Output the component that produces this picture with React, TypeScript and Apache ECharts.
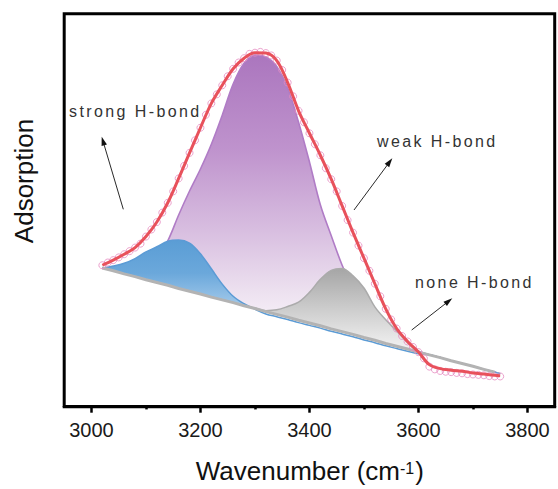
import React, { useEffect, useRef } from 'react';
import * as echarts from 'echarts';

// Wavenumber grid (cm-1) for the fitted components
const WAVENUMBERS = [3020, 3040, 3060, 3080, 3100, 3120, 3140, 3160, 3180, 3200, 3220, 3240, 3260, 3280, 3300, 3320, 3340, 3360, 3380, 3400, 3420, 3440, 3460, 3480, 3500, 3520, 3540, 3560, 3580, 3600, 3620, 3640, 3660, 3680, 3700, 3720, 3740, 3750];
// Linear baseline
const BASELINE = [35.1, 34.4, 33.6, 32.9, 32.1, 31.4, 30.7, 29.9, 29.2, 28.5, 27.7, 27.0, 26.3, 25.5, 24.8, 24.0, 23.3, 22.6, 21.8, 21.1, 20.4, 19.6, 18.9, 18.2, 17.4, 16.7, 15.9, 15.2, 14.5, 13.7, 13.0, 12.3, 11.5, 10.8, 10.1, 9.3, 8.6, 8.2];
// Component heights above the baseline
const STRONG_HBOND = [0, 1.2, 2.7, 4.6, 7.1, 9.1, 11.2, 12.3, 12.2, 10.2, 7.2, 4.0, 1.6, 0.5, -0.2, -0.6, -0.6, -0.6, -0.6, -0.6, -0.6, -0.6, -0.6, -0.6, -0.6, -0.6, -0.6, -0.6, -0.6, -0.4, 0, 0, 0, 0, 0, 0, 0, 0];
const WEAK_HBOND = [0, 0, 0.2, 0.5, 2.7, 6.1, 11.3, 18.7, 25.5, 31.8, 38.9, 47.0, 55.6, 61.7, 64.5, 64.8, 63.1, 58.3, 50.4, 41.0, 30.8, 23.7, 16.9, 11.5, 7.5, 4.5, 2.5, 1.2, 0.5, 0.2, 0, 0, 0, 0, 0, 0, 0, 0];
const NONE_HBOND = [0, 0, 0, 0, 0, 0, 0, 0, 0, 0, 0, 0, 0, 0, 0.1, 0.25, 1.15, 2.7, 4.6, 7.8, 11.8, 14.9, 16.1, 14.9, 12.6, 8.5, 6.0, 3.9, 1.6, 0, 0, 0, 0, 0, 0, 0, 0, 0];
// Cumulative fit
const FIT = [35.8, 37.1, 38.6, 40.3, 43.1, 46.8, 51.7, 57.9, 64.4, 70.8, 77.0, 81.6, 85.8, 88.5, 89.9, 89.8, 87.9, 82.3, 75.1, 69.4, 63.8, 57.7, 50.9, 44.1, 37.6, 31.1, 24.7, 19.7, 16.4, 13.7, 10.5, 9.5, 9.1, 8.8, 8.4, 8.1, 7.8, 7.7];
// Measured spectrum
const MEASURED_X = [3020, 3030, 3040, 3050, 3060, 3070, 3080, 3090, 3100, 3110, 3120, 3130, 3140, 3150, 3160, 3170, 3180, 3190, 3200, 3210, 3220, 3230, 3240, 3250, 3260, 3270, 3280, 3290, 3300, 3310, 3320, 3330, 3340, 3350, 3360, 3370, 3380, 3390, 3400, 3410, 3420, 3430, 3440, 3450, 3460, 3470, 3480, 3490, 3500, 3510, 3520, 3530, 3540, 3550, 3560, 3570, 3580, 3590, 3600, 3610, 3620, 3630, 3640, 3650, 3660, 3670, 3680, 3690, 3700, 3710, 3720, 3730, 3740, 3750];
const MEASURED_Y = [35.8, 36.5, 37.1, 37.8, 38.6, 39.4, 40.3, 41.3, 43.1, 44.9, 46.8, 49.2, 51.7, 54.6, 57.9, 61.1, 64.4, 67.6, 70.8, 74.1, 77.0, 79.3, 81.6, 83.9, 85.8, 87.4, 88.5, 89.6, 89.9, 90.1, 89.8, 89.2, 87.9, 85.5, 82.3, 78.8, 75.1, 72.2, 69.4, 66.6, 63.8, 60.5, 57.7, 54.6, 50.9, 47.3, 44.1, 40.8, 37.6, 34.4, 31.1, 27.9, 24.7, 22.0, 19.7, 17.8, 16.4, 15.0, 13.7, 12.1, 10.0, 9.3, 8.9, 8.7, 8.6, 8.4, 8.3, 8.1, 8.0, 7.9, 7.8, 7.6, 7.5, 7.5];
const MAJOR_TICKS = [3000, 3200, 3400, 3600, 3800];
const MINOR_TICKS = [3100, 3300, 3500, 3700];
const LABELS = ['strong H-bond', 'weak H-bond', 'none H-bond'];
const X_TITLE = ['Wavenumber (cm', '-1', ')'];
const Y_TITLE = 'Adsorption';

const FONT = "'Liberation Sans', Arial, sans-serif";
const ANNOT_FONT = "'Liberation Sans', annot";

function arrow(x1: number, y1: number, x2: number, y2: number) {
  const dx = x2 - x1, dy = y2 - y1;
  const len = Math.hypot(dx, dy);
  const ux = dx / len, uy = dy / len;
  const L = 9, W = 2.8;
  const bx = x2 - ux * L, by = y2 - uy * L;
  return {
    type: 'group',
    children: [
      { type: 'line', shape: { x1, y1, x2: bx + ux * 2, y2: by + uy * 2 }, style: { stroke: '#111', lineWidth: 0.9 } },
      { type: 'polygon', shape: { points: [[x2, y2], [bx - uy * W, by + ux * W], [bx + uy * W, by - ux * W]] }, style: { fill: '#111' } },
    ],
  };
}

function measure(text: string, size: number) {
  const ctx = document.createElement('canvas').getContext('2d');
  if (!ctx) return text.length * size * 0.55;
  ctx.font = `${size}px 'Liberation Sans', Arial, sans-serif`;
  return ctx.measureText(text).width;
}

export default function App() {
  const ref = useRef<HTMLDivElement>(null);
  useEffect(() => {
    if (!ref.current) return;
    const chart = echarts.init(ref.current, undefined, { renderer: 'svg' });
    const edge = (h: number[]) => WAVENUMBERS.map((x, i) => [x, +(BASELINE[i] + h[i]).toFixed(2)]);
    const base = WAVENUMBERS.map((x, i) => [x, BASELINE[i]]);
    // white mask below the baseline, a little wider than the components to hide edge seams
    const n = WAVENUMBERS.length;
    const s0 = (BASELINE[1] - BASELINE[0]) / (WAVENUMBERS[1] - WAVENUMBERS[0]);
    const s1 = (BASELINE[n - 1] - BASELINE[n - 2]) / (WAVENUMBERS[n - 1] - WAVENUMBERS[n - 2]);
    const mask = [
      [WAVENUMBERS[0] - 8, BASELINE[0] - s0 * 8],
      ...base,
      [WAVENUMBERS[n - 1] + 8, BASELINE[n - 1] + s1 * 8],
    ];
    const grad = (stops: [number, string][]) =>
      new echarts.graphic.LinearGradient(0, 0, 0, 1, stops.map(([offset, color]) => ({ offset, color })));
    const SMOOTH = 0.35;

    // x-axis title with superscript
    const w1 = measure(X_TITLE[0], 26), w2 = measure(X_TITLE[1], 16), w3 = measure(X_TITLE[2], 26);
    const tx = 309.8 - (w1 + w2 + w3 + 1) / 2;

    chart.setOption({
      animation: false,
      grid: { left: 64.2, right: 3.3, top: 13.8, bottom: 82.3, show: true, borderColor: '#000', borderWidth: 3 },
      xAxis: [
        {
          type: 'value', min: 2950, max: 3850, position: 'bottom', z: 20,
          axisLine: { show: true, onZero: false, lineStyle: { color: '#000', width: 3 } },
          axisTick: { show: true, customValues: MAJOR_TICKS, length: 6, lineStyle: { color: '#000', width: 2.5 } },
          axisLabel: { customValues: MAJOR_TICKS, formatter: (v: number) => String(v), fontSize: 20, fontFamily: FONT, color: '#1a1a1a', margin: 13 },
          splitLine: { show: false },
        },
        {
          type: 'value', min: 2950, max: 3850, position: 'bottom', offset: 0, z: 20,
          axisLine: { show: false },
          axisTick: { show: true, customValues: MINOR_TICKS, length: 3.5, lineStyle: { color: '#000', width: 2.5 } },
          axisLabel: { show: false },
          splitLine: { show: false },
        },
      ],
      yAxis: {
        type: 'value', min: -0.2, max: 99.8,
        axisLine: { show: false }, axisTick: { show: false }, axisLabel: { show: false }, splitLine: { show: false },
      },
      series: [
        {
          name: LABELS[1], type: 'line', z: 2, data: edge(WEAK_HBOND), smooth: SMOOTH, symbol: 'none', silent: true,
          lineStyle: { color: '#b07cc6', width: 1.6 },
          areaStyle: { opacity: 1, color: grad([[0, '#ab76be'], [0.27, '#bf93cd'], [0.5, '#d8bee0'], [0.67, '#ece0ef'], [0.76, '#f7f1f8'], [1, '#ffffff']]) },
        },
        {
          name: LABELS[0], type: 'line', z: 3, data: edge(STRONG_HBOND), smooth: SMOOTH, symbol: 'none', silent: true,
          lineStyle: { width: 0 },
          areaStyle: { opacity: 1, color: grad([[0, '#5a9dd5'], [0.2, '#6ba8db'], [0.42, '#a9cdec'], [1, '#ffffff']]) },
        },
        {
          name: LABELS[2], type: 'line', z: 4, data: edge(NONE_HBOND), smooth: SMOOTH, symbol: 'none', silent: true,
          lineStyle: { color: '#ababab', width: 1.5 },
          areaStyle: { opacity: 1, color: grad([[0, '#a5a5a5'], [0.3, '#cdcdcd'], [0.58, '#f1f1f1'], [1, '#ffffff']]) },
        },
        {
          type: 'line', z: 5, data: mask, symbol: 'none', silent: true,
          lineStyle: { width: 0 }, areaStyle: { color: '#ffffff', opacity: 1 },
        },
        {
          type: 'line', z: 6, data: edge(STRONG_HBOND), smooth: SMOOTH, symbol: 'none', silent: true,
          lineStyle: { color: '#5b9bd5', width: 1.5 },
        },
        {
          type: 'line', z: 7, data: base.slice(0, n - 1), symbol: 'none', silent: true,
          lineStyle: { color: '#b3b3b3', width: 3 },
        },
        {
          type: 'scatter', z: 8, data: MEASURED_X.map((x, i) => [x, MEASURED_Y[i]]), symbol: 'circle', symbolSize: 7, silent: true,
          itemStyle: { color: 'rgba(255,255,255,0)', borderColor: '#e68bc1', borderWidth: 1 },
        },
        {
          type: 'line', z: 9, data: WAVENUMBERS.map((x, i) => [x, FIT[i]]), smooth: SMOOTH, symbol: 'none', silent: true,
          lineStyle: { color: '#e8515b', width: 3 },
        },
      ],
      graphic: [
        { type: 'text', x: 24.3, y: 181, rotation: Math.PI / 2, silent: true,
          style: { text: Y_TITLE, fontSize: 26, fontFamily: FONT, fill: '#111', textAlign: 'center', textVerticalAlign: 'middle' } },
        { type: 'text', x: tx, y: 471.3, silent: true,
          style: { text: X_TITLE[0], fontSize: 26, fontFamily: FONT, fill: '#111', textAlign: 'left', textVerticalAlign: 'middle' } },
        { type: 'text', x: tx + w1, y: 468.5, silent: true,
          style: { text: X_TITLE[1], fontSize: 16, fontFamily: FONT, fill: '#111', textAlign: 'left', textVerticalAlign: 'middle' } },
        { type: 'text', x: tx + w1 + w2 + 1, y: 471.3, silent: true,
          style: { text: X_TITLE[2], fontSize: 26, fontFamily: FONT, fill: '#111', textAlign: 'left', textVerticalAlign: 'middle' } },
        { type: 'text', x: 69, y: 111.2, silent: true,
          style: { text: LABELS[0], fontSize: 16, fontFamily: ANNOT_FONT, fill: '#333', textAlign: 'left', textVerticalAlign: 'middle' } },
        { type: 'text', x: 377, y: 141.2, silent: true,
          style: { text: LABELS[1], fontSize: 16, fontFamily: ANNOT_FONT, fill: '#333', textAlign: 'left', textVerticalAlign: 'middle' } },
        { type: 'text', x: 415, y: 282.8, silent: true,
          style: { text: LABELS[2], fontSize: 16, fontFamily: ANNOT_FONT, fill: '#333', textAlign: 'left', textVerticalAlign: 'middle' } },
        arrow(123.3, 209.3, 101.7, 136.7),
        arrow(354, 210, 392.3, 158.3),
        arrow(411.7, 330, 452.3, 298.3),
      ],
    });
    return () => chart.dispose();
  }, []);

  return (
    <>
      <style>{'text[style*="annot"]{letter-spacing:2.4px}'}</style>
      <div ref={ref} style={{ position: 'absolute', left: 0, top: 0, width: 558, height: 489 }} />
    </>
  );
}
